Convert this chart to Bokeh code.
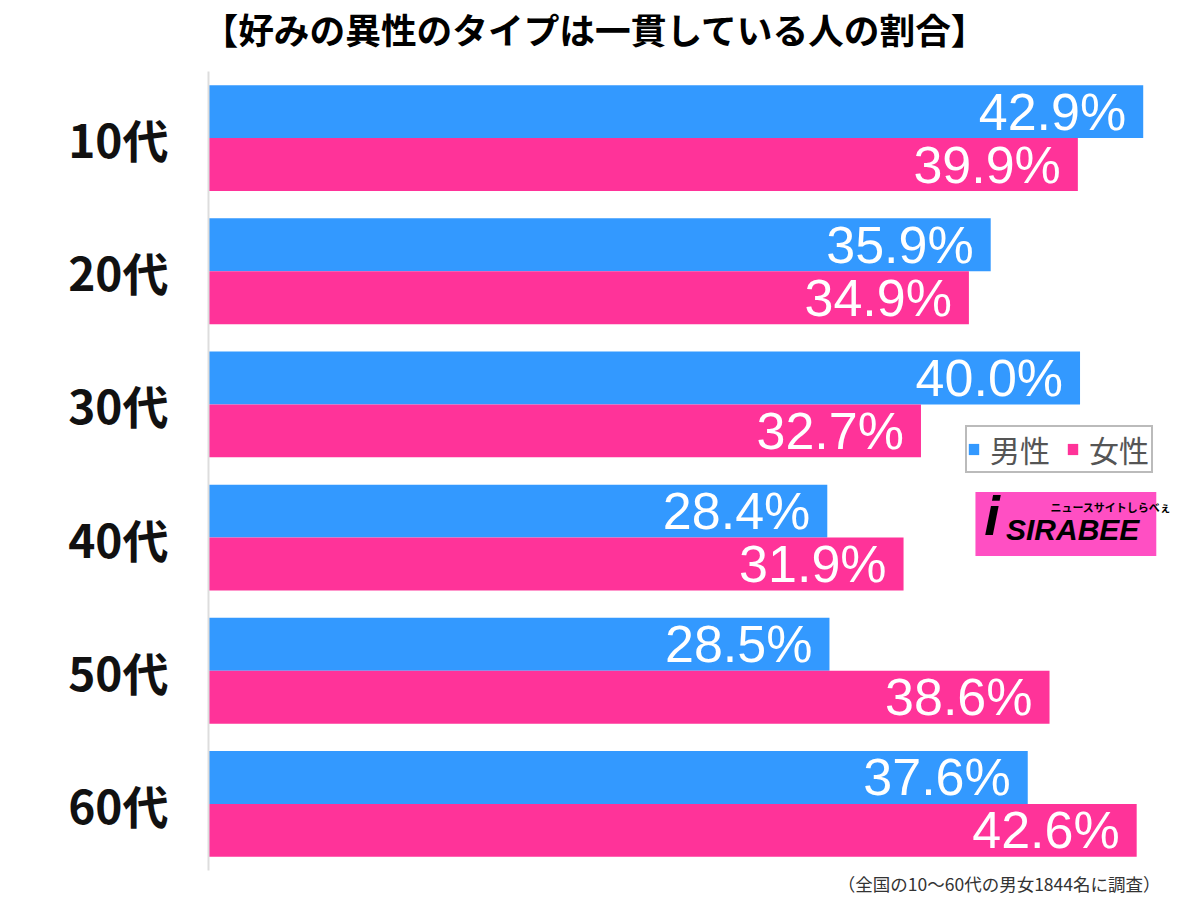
from bokeh.plotting import figure
from bokeh.models import (ColumnDataSource, FactorRange, Range1d, Label, Legend,
                          LegendItem, BoxAnnotation, Title)
from bokeh.transform import dodge
from bokeh.core.properties import value
from bokeh.embed import file_html
from bokeh.resources import INLINE

# ---- data ----
ages = ["10代", "20代", "30代", "40代", "50代", "60代"]
male = [42.9, 35.9, 40.0, 28.4, 28.5, 37.6]
female = [39.9, 34.9, 32.7, 31.9, 38.6, 42.6]
series_names = ["男性", "女性"]
title_text = "【好みの異性のタイプは一貫している人の割合】"
note_text = "（全国の10〜60代の男女1844名に調査）"

BLUE = "#3399ff"
PINK = "#ff3399"
JP = "Noto Sans CJK JP"

src = ColumnDataSource(dict(
    age=ages, male=male, female=female,
    mlab=[f"{v:.1f}%" for v in male],
    flab=[f"{v:.1f}%" for v in female],
))

p = figure(width=1200, height=897,
           y_range=FactorRange(factors=ages[::-1], range_padding=0),
           x_range=Range1d(0, 45.07),
           output_backend="svg", toolbar_location=None,
           x_axis_location=None,
           min_border_left=208, min_border_right=10,
           min_border_top=71, min_border_bottom=26)
p.outline_line_color = None
p.xgrid.visible = False
p.ygrid.visible = False
p.background_fill_color = "white"
p.border_fill_color = "white"

bh = 0.3975
r1 = p.hbar(y=dodge("age", bh / 2, range=p.y_range), left=0, right="male",
            height=bh, source=src, fill_color=BLUE, line_color=None)
r2 = p.hbar(y=dodge("age", -bh / 2, range=p.y_range), left=0, right="female",
            height=bh, source=src, fill_color=PINK, line_color=None)

for col, lab, off in (("male", "mlab", bh / 2), ("female", "flab", -bh / 2)):
    p.text(x=col, y=dodge("age", off, range=p.y_range), text=lab, source=src,
           text_align="right", text_baseline="middle", x_offset=-17,
           text_color="white", text_font=value("Liberation Sans"),
           text_font_size="52px")

ax = p.yaxis[0]
ax.axis_line_color = "#dddddd"
ax.axis_line_width = 2
ax.major_tick_line_color = None
ax.minor_tick_line_color = None
ax.major_label_text_font = JP
ax.major_label_text_font_size = "46px"
ax.major_label_text_font_style = "bold"
ax.major_label_text_color = "#111111"
ax.major_label_standoff = 34

legend = Legend(items=[LegendItem(label=series_names[0], renderers=[r1]),
                       LegendItem(label=series_names[1], renderers=[r2])],
                orientation="horizontal", location=(757, 397),
                glyph_width=13, glyph_height=14,
                label_text_font=JP, label_text_font_size="30px",
                label_text_color="#555555", label_width=62,
                border_line_color="#777777", border_line_width=2,
                padding=0, spacing=14, label_standoff=10, margin=0)
p.add_layout(legend)

# logo block
p.add_layout(BoxAnnotation(left=35.2, right=43.5, bottom=2.3625, top=2.8425,
                           fill_color="#ff4fc3", fill_alpha=1, line_color=None,
                           level="annotation"))
p.add_layout(Label(x=35.6, y=2.43, text="i", text_font="Liberation Sans",
                   text_font_size="56px", text_font_style="bold italic",
                   text_color="black"))
p.add_layout(Label(x=36.6, y=2.44, text="SIRABEE", text_font="Liberation Sans",
                   text_font_size="30px", text_font_style="bold italic",
                   text_color="black"))
p.add_layout(Label(x=38.64, y=2.67, text="ニュースサイトしらべぇ", text_font=JP,
                   text_font_size="11px", text_font_style="bold",
                   text_color="black"))

# spacer title (closest to frame) then the real title above it
p.add_layout(Title(text=" ", text_font=JP, text_font_size="11px",
                   standoff=0), "above")
p.add_layout(Title(text=title_text, text_font=JP, text_font_size="35.7px",
                   text_font_style="bold", text_color="black",
                   align="left", offset=-6, standoff=0,
                   vertical_align="bottom"), "above")
p.add_layout(Title(text=note_text, text_font=JP, text_font_size="17.5px",
                   text_font_style="normal", text_color="#333333",
                   align="right", offset=30, standoff=0,
                   vertical_align="top"), "below")

open("out.html", "w").write(file_html(p, INLINE))
